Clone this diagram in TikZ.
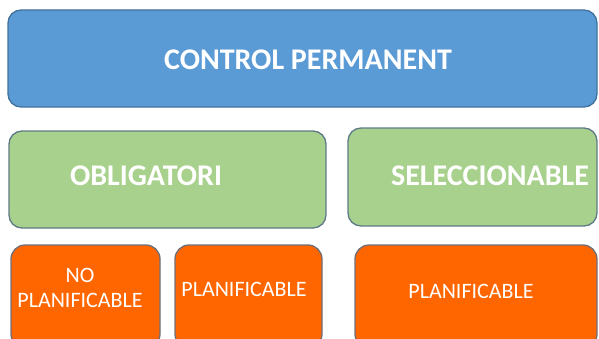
\documentclass[tikz,border=0pt]{standalone}
\usepackage{fontspec}
\setmainfont{Carlito}
\definecolor{bluefill}{HTML}{5B9BD5}
\definecolor{blueline}{HTML}{41719C}
\definecolor{greenfill}{HTML}{A9D18E}
\definecolor{greenline}{HTML}{5E7A86}
\definecolor{orangefill}{HTML}{FF6600}
\definecolor{orangeline}{HTML}{6E6E78}
\begin{document}
\begin{tikzpicture}[x=1pt,y=1pt,
  boxbase/.style={draw, line width=1.3pt, rounded corners=13pt},
  bluebox/.style={boxbase, fill=bluefill, draw=blueline},
  greenbox/.style={boxbase, fill=greenfill, draw=greenline},
  orangebox/.style={boxbase, fill=orangefill, draw=orangeline, rounded corners=14pt},
  bigtext/.style={text=white, font=\bfseries\fontsize{30}{34}\selectfont},
  midtext/.style={text=white, font=\bfseries\fontsize{30}{34}\selectfont},
  smalltext/.style={text=white, font=\fontsize{22}{25}\selectfont, align=center, inner sep=0pt}
]
\useasboundingbox (0,0) rectangle (599,338);
% top
\draw[bluebox] (8,231) rectangle (597,328);
\node[bigtext] (cp) at (308,278) {CONTROL PERMANENT};
% green
\draw[greenbox] (9,110) rectangle (326,207);
\node[midtext] (ob) at (146,162) {OBLIGATORI};
\draw[greenbox] (348,112) rectangle (597,210);
\node[midtext] (se) at (490,162) {SELECCIONABLE};
% orange
\draw[orangebox] (11,-10) rectangle (160,93);
\node[smalltext] (np) at (80,50) {NO\\PLANIFICABLE};
\draw[orangebox] (175,-10) rectangle (322,93);
\node[smalltext] (p1) at (244,49) {PLANIFICABLE};
\draw[orangebox] (355,-10) rectangle (597,93);
\node[smalltext] (p2) at (471,47) {PLANIFICABLE};
\end{tikzpicture}
\end{document}
